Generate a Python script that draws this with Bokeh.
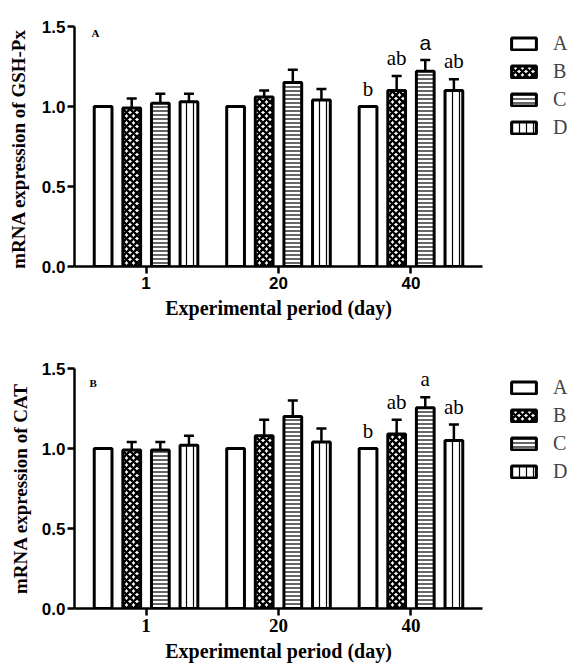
from bokeh.plotting import figure
from bokeh.models import (ColumnDataSource, FactorRange, Range1d, Legend, LegendItem,
                          Whisker, TeeHead, Label, LabelSet, FixedTicker, PrintfTickFormatter)
from bokeh.transform import dodge
from bokeh.core.properties import value
from bokeh.layouts import column
from bokeh.embed import file_html
from bokeh.resources import INLINE

# ---------------- data ----------------
days = ["1", "20", "40"]
groups = ["A", "B", "C", "D"]

# Panel A: GSH-Px
gsh_A = [1.00, 1.00, 1.00]
gsh_B = [0.99, 1.06, 1.10]
gsh_C = [1.02, 1.15, 1.22]
gsh_D = [1.03, 1.04, 1.10]
gsh_A_err = [0.00, 0.00, 0.00]
gsh_B_err = [0.06, 0.04, 0.09]
gsh_C_err = [0.06, 0.08, 0.07]
gsh_D_err = [0.05, 0.07, 0.07]

# Panel B: CAT
cat_A = [1.00, 1.00, 1.00]
cat_B = [0.99, 1.08, 1.09]
cat_C = [0.99, 1.20, 1.255]
cat_D = [1.02, 1.04, 1.05]
cat_A_err = [0.00, 0.00, 0.00]
cat_B_err = [0.05, 0.10, 0.09]
cat_C_err = [0.05, 0.10, 0.065]
cat_D_err = [0.06, 0.085, 0.10]

# significance letters on day 40
sig_40 = ["b", "ab", "a", "ab"]

y_ticks = [0.0, 0.5, 1.0, 1.5]

# ---------------- styling ----------------
offsets = [-0.324, -0.108, 0.108, 0.324]
hatches = {
    "A": dict(hatch_pattern=" "),
    "B": dict(hatch_pattern="diagonal_cross", hatch_scale=7, hatch_weight=2.4, hatch_color="black"),
    "C": dict(hatch_pattern="horizontal_line", hatch_scale=4, hatch_weight=1.2, hatch_color="black"),
    "D": dict(hatch_pattern="vertical_line", hatch_scale=7, hatch_weight=1.2, hatch_color="black"),
}
SERIF = "Liberation Serif"
SANS = "Liberation Sans"


def build(means, errs, sig_fonts, ylabel, tag, xtick_font, xtick_size,
          left_b, top_b, bottom_b, right_b, legend_xy, ylab_standoff, tag_xy):
    p = figure(x_range=FactorRange(factors=days, range_padding=0.04, range_padding_units="absolute"),
               y_range=Range1d(0, 1.5),
               frame_width=408, frame_height=240,
               min_border_left=left_b, min_border_top=top_b,
               min_border_bottom=bottom_b, min_border_right=right_b,
               toolbar_location=None, output_backend="svg")
    p.outline_line_color = None
    p.xgrid.visible = False
    p.ygrid.visible = False

    items = []
    for g, off, m, e, sf in zip(groups, offsets, means, errs, sig_fonts):
        upper = [a + b for a, b in zip(m, e)]
        sig = ["", "", sig_40[groups.index(g)]]
        src = ColumnDataSource(dict(day=days, top=m, upper=upper, sig=sig))
        xs = dodge("day", off, range=p.x_range)
        r = p.vbar(x=xs, top="top", width=0.134, source=src,
                   fill_color="white", line_color="black", line_width=3,
                   **hatches[g])
        w = Whisker(source=src, base=xs, lower="top", upper="upper",
                    dimension="height", line_color="black", line_width=2.5,
                    upper_head=TeeHead(size=10, line_width=2.5, line_color="black"),
                    lower_head=None, level="glyph")
        p.add_layout(w)
        ls = LabelSet(x=xs, y="upper", text="sig", source=src,
                      text_font=value(sf), text_font_size="21px",
                      text_align="center", text_baseline="bottom",
                      y_offset=6, text_color="#000000")
        p.add_layout(ls)
        items.append(LegendItem(label=g, renderers=[r]))

    legend = Legend(items=items, location=legend_xy, margin=0, padding=0,
                    spacing=5, glyph_width=31, glyph_height=15, label_height=20,
                    label_standoff=14, label_text_font=SERIF,
                    label_text_font_size="20px", border_line_color=None,
                    background_fill_alpha=0)
    p.add_layout(legend, "right")

    for ax in (p.xaxis[0], p.yaxis[0]):
        ax.axis_line_width = 2.5
        ax.axis_line_color = "black"
        ax.major_tick_line_width = 2.5
        ax.major_tick_line_color = "black"
        ax.major_tick_out = 7
        ax.major_tick_in = 0
        ax.minor_tick_line_color = None
        ax.major_label_text_color = "black"
        ax.axis_label_text_color = "black"
        ax.axis_label_text_font = SERIF
        ax.axis_label_text_font_style = "bold"

    p.yaxis.ticker = FixedTicker(ticks=y_ticks)
    p.yaxis.formatter = PrintfTickFormatter(format="%.1f")
    p.yaxis.major_label_text_font = SANS
    p.yaxis.major_label_text_font_style = "bold"
    p.yaxis.major_label_text_font_size = "17px"
    p.yaxis.major_label_standoff = 2
    p.yaxis.axis_label = ylabel
    p.yaxis.axis_label_text_font_size = "19px"
    p.yaxis.axis_label_standoff = ylab_standoff

    p.xaxis.major_label_text_font = xtick_font
    p.xaxis.major_label_text_font_style = "bold"
    p.xaxis.major_label_text_font_size = xtick_size
    p.xaxis.major_label_standoff = 3
    p.xaxis.axis_label = "Experimental period (day)"
    p.xaxis.axis_label_text_font_size = "20px"
    p.xaxis.axis_label_standoff = 5

    p.add_layout(Label(x=tag_xy[0], y=tag_xy[1], x_units="screen", y_units="screen",
                       text=tag, text_font=SERIF, text_font_style="bold",
                       text_font_size="11px", text_baseline="middle",
                       text_align="left", text_color="black"))
    return p


p1 = build([gsh_A, gsh_B, gsh_C, gsh_D],
           [gsh_A_err, gsh_B_err, gsh_C_err, gsh_D_err],
           [SERIF, SERIF, SANS, SERIF],
           "mRNA  expression of GSH-Px", "A", SANS, "17px",
           left_b=67, top_b=26, bottom_b=55, right_b=88,
           legend_xy=(26, 127), ylab_standoff=10, tag_xy=(17, 234))

p2 = build([cat_A, cat_B, cat_C, cat_D],
           [cat_A_err, cat_B_err, cat_C_err, cat_D_err],
           [SERIF, SERIF, SERIF, SERIF],
           "mRNA expression of CAT", "B", SERIF, "19px",
           left_b=74, top_b=47, bottom_b=48, right_b=80,
           legend_xy=(26, 125), ylab_standoff=8, tag_xy=(15, 226))

layout = column(p1, p2, spacing=0)
open("out.html", "w").write(file_html(layout, INLINE))
